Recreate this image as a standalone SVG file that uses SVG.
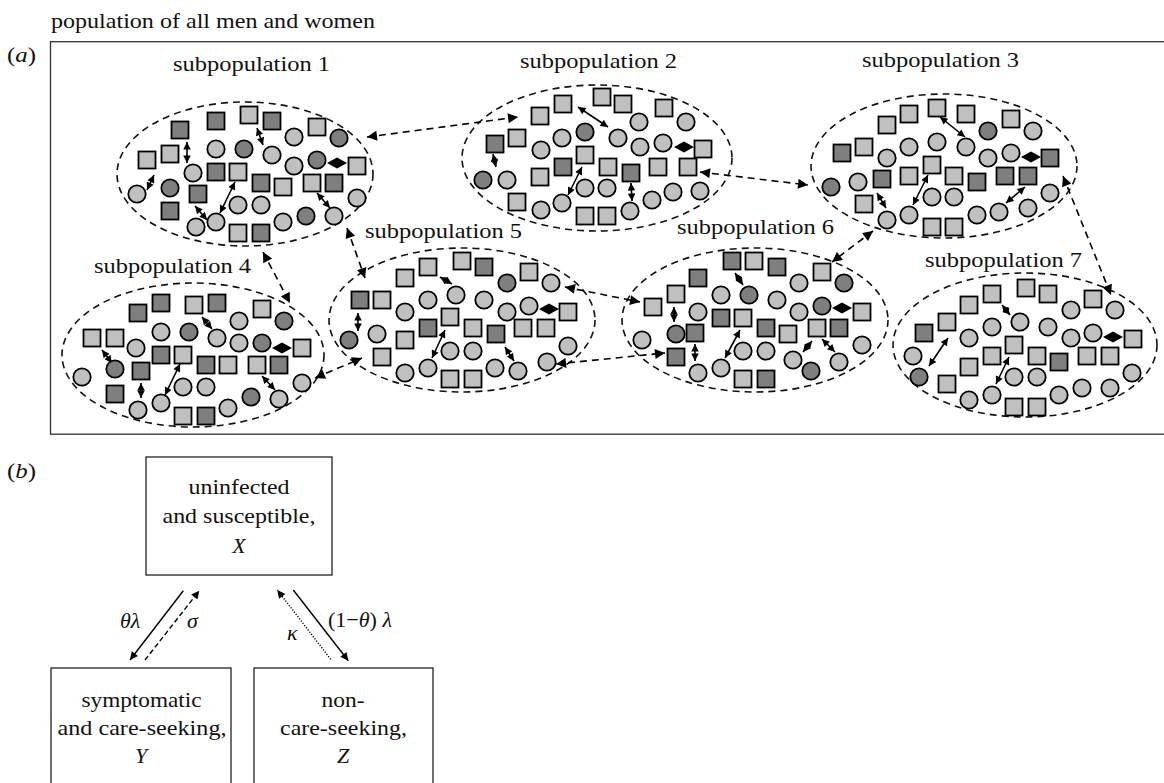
<svg xmlns="http://www.w3.org/2000/svg" xmlns:xlink="http://www.w3.org/1999/xlink" width="1164" height="783" viewBox="0 0 1164 783">
<style>
text{font-family:"Liberation Serif","Times New Roman",serif;font-size:22px;fill:#111}
.it{font-style:italic}
.frame{fill:none;stroke:#333;stroke-width:1.3}
.ell{fill:none;stroke:#111;stroke-width:1.6;stroke-dasharray:7 5}
.ia{stroke:#000;stroke-width:1.6;marker-start:url(#ah);marker-end:url(#ah)}
.con{fill:none;stroke:#000;stroke-width:1.6;stroke-dasharray:7 5;marker-start:url(#bh);marker-end:url(#bh)}
.box{fill:#fff;stroke:#222;stroke-width:1.3}
.ba{fill:none;stroke:#000;stroke-width:1.4;marker-end:url(#sh)}
</style>
<defs>
<rect id="ls" x="-8.5" y="-8.5" width="17" height="17" fill="#c0c0c0" stroke="#000" stroke-width="1.8"/>
<rect id="ds" x="-8.5" y="-8.5" width="17" height="17" fill="#7f7f7f" stroke="#000" stroke-width="1.8"/>
<circle id="lc" r="8.7" fill="#c0c0c0" stroke="#000" stroke-width="1.8"/>
<circle id="dc" r="8.7" fill="#7f7f7f" stroke="#000" stroke-width="1.8"/>
<path id="dm" d="M-10,0 L0,-5.5 L10,0 L0,5.5 Z" fill="#000"/>
<marker id="ah" viewBox="0 0 10 10" refX="10" refY="5" markerWidth="9" markerHeight="7.5" markerUnits="userSpaceOnUse" orient="auto-start-reverse"><path d="M0,0 L10,5 L0,10 Z" fill="#000"/></marker>
<marker id="bh" viewBox="0 0 10 10" refX="10" refY="5" markerWidth="13" markerHeight="10" markerUnits="userSpaceOnUse" orient="auto-start-reverse"><path d="M0,0 L10,5 L0,10 Z" fill="#000"/></marker>
<marker id="sh" viewBox="0 0 10 10" refX="10" refY="5" markerWidth="10" markerHeight="8" markerUnits="userSpaceOnUse" orient="auto"><path d="M0,0 L10,5 L0,10 Z" fill="#000"/></marker>
</defs>

<text x="51" y="28" textLength="324" lengthAdjust="spacingAndGlyphs">population of all men and women</text>
<text x="7" y="62" textLength="29" lengthAdjust="spacingAndGlyphs">(<tspan class="it">a</tspan>)</text>
<rect class="frame" x="50.5" y="41.7" width="1130" height="392.5"/>

<g id="subpop1">
<ellipse class="ell" cx="245" cy="174" rx="128" ry="72"/>
<text x="173" y="71" textLength="157" lengthAdjust="spacingAndGlyphs">subpopulation 1</text>
<use href="#ds" x="180" y="130"/><use href="#ds" x="216" y="121"/><use href="#ls" x="249" y="115"/><use href="#ds" x="272" y="121"/><use href="#ls" x="317" y="127"/><use href="#lc" x="294" y="137"/><use href="#dc" x="339" y="138"/>
<use href="#ls" x="147" y="160"/><use href="#ls" x="170" y="154"/><line class="ia" x1="187" y1="142" x2="187" y2="163"/>
<use href="#lc" x="216" y="149"/><use href="#dc" x="244" y="149"/><line class="ia" x1="257" y1="128" x2="263" y2="145"/>
<use href="#lc" x="272" y="155"/><use href="#lc" x="294" y="166"/><use href="#dc" x="317" y="160"/><use href="#dm" x="337" y="163"/><use href="#ls" x="357" y="166"/>
<use href="#lc" x="193" y="173"/><use href="#ds" x="216" y="172"/><use href="#ls" x="238" y="172"/>
<use href="#lc" x="137" y="194"/><line class="ia" x1="147" y1="190" x2="154" y2="175"/><use href="#dc" x="170" y="188"/><use href="#ds" x="198" y="194"/>
<line class="ia" x1="220" y1="213" x2="235" y2="182"/>
<use href="#ds" x="261" y="183"/><use href="#ls" x="283" y="187"/><use href="#ls" x="312" y="183"/><use href="#ds" x="334" y="183"/><use href="#lc" x="357" y="198"/>
<use href="#ds" x="170" y="211"/><line class="ia" x1="195" y1="206" x2="207" y2="220"/>
<use href="#lc" x="238" y="205"/><use href="#lc" x="261" y="205"/><line class="ia" x1="317" y1="193" x2="330" y2="208"/>
<use href="#lc" x="196" y="227"/><use href="#lc" x="216" y="222"/><use href="#ls" x="238" y="233"/><use href="#ds" x="261" y="233"/><use href="#lc" x="283" y="222"/><use href="#dc" x="306" y="216"/><use href="#lc" x="334" y="216"/>
</g>

<g id="subpop2">
<ellipse class="ell" cx="597" cy="158" rx="135" ry="73"/>
<text x="520" y="68" textLength="157" lengthAdjust="spacingAndGlyphs">subpopulation 2</text>
<use href="#ls" x="540" y="116"/><use href="#ls" x="563" y="104"/><use href="#ls" x="602" y="97"/><use href="#ls" x="623" y="104"/><use href="#ls" x="664" y="108"/><use href="#lc" x="639" y="122"/><use href="#lc" x="686" y="122"/>
<line class="ia" x1="578" y1="107" x2="608" y2="127"/>
<use href="#ds" x="495" y="144"/><use href="#ls" x="517" y="138"/><use href="#lc" x="541" y="150"/><use href="#lc" x="562" y="138"/><use href="#dc" x="585" y="132"/><use href="#lc" x="618" y="138"/><use href="#lc" x="640" y="147"/><use href="#lc" x="663" y="143"/><use href="#dm" x="684" y="147"/><use href="#ls" x="703" y="149"/>
<line class="ia" x1="493" y1="154" x2="496" y2="167"/>
<use href="#ls" x="585" y="155"/><use href="#ds" x="563" y="167"/><use href="#ls" x="608" y="167"/><use href="#ds" x="631" y="173"/><use href="#ls" x="658" y="167"/><use href="#ls" x="688" y="167"/>
<use href="#dc" x="483" y="180"/><use href="#lc" x="507" y="180"/><use href="#ls" x="540" y="177"/>
<line class="ia" x1="568" y1="195" x2="582" y2="167"/>
<use href="#lc" x="585" y="188"/><use href="#lc" x="607" y="188"/><line class="ia" x1="631" y1="183" x2="632" y2="201"/>
<use href="#lc" x="652" y="200"/><use href="#lc" x="673" y="192"/><use href="#lc" x="700" y="191"/>
<use href="#ls" x="517" y="202"/><use href="#lc" x="541" y="210"/><use href="#lc" x="562" y="203"/><use href="#ls" x="585" y="216"/><use href="#ls" x="607" y="216"/><use href="#lc" x="630" y="211"/>
</g>

<g id="subpop3">
<ellipse class="ell" cx="944" cy="166" rx="133" ry="72"/>
<text x="862" y="67" textLength="157" lengthAdjust="spacingAndGlyphs">subpopulation 3</text>
<use href="#ls" x="887" y="125"/><use href="#ls" x="909" y="114"/><use href="#ls" x="937" y="108"/><use href="#ls" x="966" y="114"/><use href="#ls" x="1011" y="119"/><use href="#dc" x="988" y="131"/><use href="#lc" x="1033" y="131"/>
<line class="ia" x1="940" y1="117" x2="965" y2="137"/>
<use href="#ds" x="842" y="153"/><use href="#ls" x="864" y="147"/><use href="#lc" x="887" y="158"/><use href="#lc" x="909" y="147"/><use href="#lc" x="937" y="142"/><use href="#lc" x="966" y="147"/><use href="#lc" x="988" y="158"/><use href="#lc" x="1011" y="153"/><use href="#dm" x="1031" y="157"/><use href="#ds" x="1050" y="158"/>
<use href="#ls" x="932" y="165"/>
<use href="#dc" x="831" y="187"/><use href="#lc" x="858" y="182"/><use href="#ds" x="882" y="179"/><use href="#ls" x="909" y="176"/><use href="#ls" x="954" y="176"/><use href="#ds" x="977" y="182"/><use href="#ds" x="1005" y="176"/><use href="#ds" x="1028" y="176"/>
<line class="ia" x1="913" y1="205" x2="928" y2="175"/>
<use href="#lc" x="932" y="197"/><use href="#lc" x="954" y="197"/><line class="ia" x1="1006" y1="203" x2="1025" y2="187"/><use href="#lc" x="1050" y="193"/>
<use href="#ls" x="864" y="204"/><line class="ia" x1="877" y1="193" x2="886" y2="208"/>
<use href="#lc" x="887" y="220"/><use href="#lc" x="909" y="215"/><use href="#ls" x="932" y="227"/><use href="#ls" x="954" y="227"/><use href="#lc" x="977" y="215"/><use href="#lc" x="999" y="212"/><use href="#lc" x="1028" y="208"/>
</g>

<g id="subpop4">
<ellipse class="ell" cx="193" cy="355" rx="131" ry="72"/>
<text x="94" y="273" textLength="157" lengthAdjust="spacingAndGlyphs">subpopulation 4</text>
<use href="#ds" x="138" y="313"/><use href="#ds" x="161" y="303"/><use href="#ls" x="194" y="305"/><use href="#ds" x="217" y="303"/><use href="#ls" x="262" y="309"/><use href="#lc" x="239" y="321"/><use href="#dc" x="284" y="321"/>
<use href="#ls" x="92" y="338"/><use href="#ls" x="115" y="338"/><line class="ia" x1="102" y1="350" x2="112" y2="363"/>
<use href="#lc" x="161" y="332"/><use href="#dc" x="189" y="332"/><line class="ia" x1="202" y1="317" x2="212" y2="329"/>
<use href="#lc" x="217" y="338"/><use href="#lc" x="239" y="343"/><use href="#dc" x="262" y="343"/><use href="#dm" x="282" y="348"/><use href="#ls" x="302" y="348"/>
<use href="#lc" x="136" y="348"/><use href="#ds" x="161" y="355"/><use href="#ls" x="183" y="355"/>
<use href="#lc" x="82" y="377"/><use href="#dc" x="115" y="369"/><use href="#ds" x="141" y="371"/><line class="ia" x1="141" y1="383" x2="141" y2="398"/>
<line class="ia" x1="165" y1="395" x2="180" y2="364"/>
<use href="#ds" x="206" y="365"/><use href="#ls" x="228" y="365"/><use href="#ls" x="257" y="365"/><use href="#ds" x="279" y="365"/><line class="ia" x1="262" y1="376" x2="275" y2="390"/><use href="#lc" x="302" y="383"/>
<use href="#ds" x="115" y="394"/><use href="#lc" x="183" y="387"/><use href="#lc" x="206" y="387"/>
<use href="#lc" x="138" y="410"/><use href="#lc" x="161" y="403"/><use href="#ls" x="183" y="416"/><use href="#ds" x="206" y="416"/><use href="#lc" x="228" y="408"/><use href="#dc" x="251" y="397"/><use href="#lc" x="279" y="399"/>
</g>

<g id="subpop5">
<ellipse class="ell" cx="462" cy="320" rx="133" ry="72"/>
<text x="365" y="238" textLength="157" lengthAdjust="spacingAndGlyphs">subpopulation 5</text>
<use href="#ls" x="405" y="278"/><use href="#ls" x="428" y="267"/><use href="#ls" x="462" y="261"/><use href="#ds" x="484" y="267"/><use href="#ls" x="529" y="272"/><use href="#dc" x="507" y="283"/><use href="#lc" x="551" y="283"/>
<line class="ia" x1="440" y1="277" x2="452" y2="284"/>
<use href="#ds" x="360" y="300"/><use href="#ls" x="382" y="300"/><use href="#lc" x="405" y="312"/><use href="#lc" x="428" y="300"/><use href="#lc" x="456" y="295"/><use href="#lc" x="484" y="300"/><use href="#lc" x="507" y="312"/><use href="#lc" x="529" y="306"/><use href="#dm" x="549" y="309"/><use href="#ls" x="568" y="312"/>
<line class="ia" x1="358" y1="313" x2="358" y2="331"/>
<use href="#ls" x="450" y="317"/><use href="#ds" x="428" y="328"/><use href="#ls" x="405" y="340"/><use href="#ls" x="473" y="328"/><use href="#ds" x="496" y="334"/><use href="#ls" x="523" y="328"/><use href="#ls" x="546" y="328"/>
<use href="#dc" x="349" y="340"/><use href="#lc" x="377" y="334"/>
<line class="ia" x1="432" y1="358" x2="445" y2="330"/>
<use href="#lc" x="450" y="351"/><use href="#lc" x="473" y="351"/><line class="ia" x1="505" y1="347" x2="514" y2="361"/><use href="#lc" x="568" y="346"/>
<use href="#ls" x="382" y="357"/><use href="#lc" x="547" y="362"/>
<use href="#lc" x="405" y="373"/><use href="#lc" x="428" y="368"/><use href="#ls" x="450" y="379"/><use href="#ls" x="473" y="379"/><use href="#lc" x="495" y="368"/><use href="#lc" x="518" y="371"/>
</g>

<g id="subpop6">
<ellipse class="ell" cx="755" cy="320" rx="133" ry="72"/>
<text x="677" y="234" textLength="157" lengthAdjust="spacingAndGlyphs">subpopulation 6</text>
<use href="#ls" x="653" y="307"/><use href="#ls" x="676" y="294"/><use href="#ds" x="698" y="278"/><use href="#ds" x="732" y="261"/><use href="#ls" x="754" y="261"/><use href="#ds" x="777" y="267"/><use href="#ls" x="822" y="272"/><use href="#lc" x="799" y="283"/><use href="#dc" x="844" y="283"/>
<line class="ia" x1="735" y1="273" x2="743" y2="285"/>
<use href="#lc" x="721" y="295"/><use href="#dc" x="749" y="295"/><use href="#lc" x="777" y="300"/><use href="#lc" x="698" y="312"/><use href="#lc" x="799" y="312"/><use href="#dc" x="822" y="306"/><use href="#dm" x="842" y="308"/><use href="#ls" x="862" y="312"/>
<line class="ia" x1="674" y1="307" x2="674" y2="322"/>
<use href="#ds" x="721" y="318"/><use href="#ls" x="743" y="318"/><use href="#ds" x="766" y="328"/><use href="#ls" x="788" y="334"/><use href="#ls" x="817" y="328"/><use href="#ds" x="839" y="328"/>
<use href="#lc" x="642" y="340"/><use href="#dc" x="676" y="334"/><use href="#ds" x="695" y="333"/><line class="ia" x1="695" y1="344" x2="695" y2="361"/>
<line class="ia" x1="725" y1="358" x2="740" y2="330"/>
<use href="#lc" x="743" y="351"/><use href="#lc" x="766" y="351"/><line class="ia" x1="803" y1="352" x2="812" y2="341"/><line class="ia" x1="822" y1="339" x2="835" y2="352"/><use href="#lc" x="862" y="345"/>
<use href="#ds" x="676" y="357"/><use href="#lc" x="698" y="373"/><use href="#lc" x="721" y="368"/><use href="#ls" x="743" y="379"/><use href="#ds" x="766" y="379"/><use href="#lc" x="793" y="360"/><use href="#dc" x="811" y="371"/><use href="#lc" x="839" y="362"/>
</g>

<g id="subpop7">
<ellipse class="ell" cx="1025" cy="345" rx="132" ry="72"/>
<text x="925" y="267" textLength="157" lengthAdjust="spacingAndGlyphs">subpopulation 7</text>
<use href="#ls" x="969" y="305"/><use href="#ls" x="992" y="294"/><use href="#ls" x="1026" y="288"/><use href="#ls" x="1048" y="294"/><use href="#ls" x="1093" y="299"/><use href="#lc" x="1071" y="310"/><use href="#lc" x="1115" y="310"/>
<line class="ia" x1="1002" y1="305" x2="1010" y2="315"/>
<use href="#ds" x="924" y="333"/><use href="#ls" x="947" y="322"/><use href="#lc" x="969" y="338"/><use href="#lc" x="992" y="327"/><use href="#lc" x="1020" y="322"/><use href="#lc" x="1048" y="327"/><use href="#lc" x="1071" y="338"/><use href="#lc" x="1093" y="333"/><use href="#dm" x="1113" y="337"/><use href="#ls" x="1133" y="339"/>
<use href="#ls" x="1014" y="345"/><use href="#lc" x="913" y="356"/><line class="ia" x1="929" y1="366" x2="948" y2="338"/>
<use href="#ls" x="992" y="356"/><use href="#ls" x="969" y="367"/><use href="#ls" x="1037" y="356"/><use href="#ds" x="1059" y="362"/><use href="#ls" x="1087" y="356"/><use href="#ls" x="1110" y="356"/>
<use href="#dc" x="919" y="377"/><use href="#ls" x="947" y="384"/><line class="ia" x1="996" y1="384" x2="1009" y2="357"/>
<use href="#lc" x="1014" y="377"/><use href="#lc" x="1037" y="377"/><use href="#lc" x="1132" y="373"/>
<use href="#lc" x="969" y="400"/><use href="#lc" x="992" y="395"/><use href="#ls" x="1014" y="407"/><use href="#ls" x="1037" y="407"/><use href="#lc" x="1059" y="395"/><use href="#lc" x="1082" y="388"/><use href="#lc" x="1110" y="388"/>
</g>

<g id="connectors-a">
<line class="con" x1="367" y1="137" x2="518" y2="117"/>
<line class="con" x1="700" y1="172" x2="808" y2="185"/>
<line class="con" x1="347" y1="228" x2="365" y2="278"/>
<line class="con" x1="263" y1="252" x2="290" y2="303"/>
<line class="con" x1="315" y1="378" x2="362" y2="358"/>
<line class="con" x1="565" y1="287" x2="640" y2="302"/>
<line class="con" x1="556" y1="364" x2="665" y2="353"/>
<line class="con" x1="873" y1="231" x2="832" y2="262"/>
<line class="con" x1="1063" y1="176" x2="1111" y2="295"/>
</g>

<text x="7" y="478" textLength="29" lengthAdjust="spacingAndGlyphs">(<tspan class="it">b</tspan>)</text>

<g id="nodeX">
<rect class="box" x="146" y="457" width="186" height="118"/>
<text x="239" y="494" text-anchor="middle" textLength="101" lengthAdjust="spacingAndGlyphs">uninfected</text>
<text x="239" y="523" text-anchor="middle" textLength="153" lengthAdjust="spacingAndGlyphs">and susceptible,</text>
<text x="239" y="553" text-anchor="middle" class="it">X</text>
</g>
<g id="nodeY">
<rect class="box" x="51" y="668" width="180" height="130"/>
<text x="141.5" y="707" text-anchor="middle" textLength="120" lengthAdjust="spacingAndGlyphs">symptomatic</text>
<text x="142" y="735" text-anchor="middle" textLength="169" lengthAdjust="spacingAndGlyphs">and care-seeking,</text>
<text x="141" y="763" text-anchor="middle" class="it">Y</text>
</g>
<g id="nodeZ">
<rect class="box" x="254" y="668" width="179" height="130"/>
<text x="343" y="707" text-anchor="middle" textLength="43" lengthAdjust="spacingAndGlyphs">non-</text>
<text x="343.5" y="735" text-anchor="middle" textLength="127" lengthAdjust="spacingAndGlyphs">care-seeking,</text>
<text x="343" y="763" text-anchor="middle" class="it">Z</text>
</g>

<g id="connectors-b">
<line class="ba" x1="183.3" y1="590.7" x2="130" y2="660"/>
<line class="ba" x1="145" y1="660" x2="199.3" y2="590.7" stroke-dasharray="5 3"/>
<line class="ba" x1="330.7" y1="659.3" x2="277.3" y2="590" stroke-dasharray="1.2 1.6" stroke-width="1.1"/>
<line class="ba" x1="293.3" y1="590" x2="348.3" y2="660.7"/>
<text x="120" y="628" class="it">θλ</text>
<text x="187" y="628" class="it">σ</text>
<text x="287" y="640" class="it">κ</text>
<text x="328" y="627">(1−<tspan class="it">θ</tspan>) <tspan class="it">λ</tspan></text>
</g>
</svg>
